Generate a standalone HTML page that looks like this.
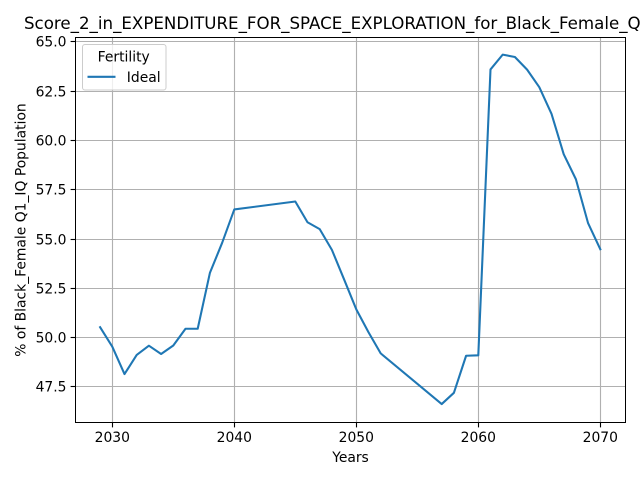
<!DOCTYPE html>
<html>
<head>
<meta charset="utf-8">
<style>
html,body{margin:0;padding:0;background:#fff;}
svg{display:block;}
text{font-family:"DejaVu Sans","Liberation Sans",sans-serif;fill:#000;}
</style>
</head>
<body>
<svg id="chart" width="640" height="480" viewBox="0 0 640 480" xmlns="http://www.w3.org/2000/svg">
  <rect x="0" y="0" width="640" height="480" fill="#fff"/>
  <text x="350.8" y="29" font-size="16.67" text-anchor="middle">Score_2_in_EXPENDITURE_FOR_SPACE_EXPLORATION_for_Black_Female_Q1_IQ</text>
  <g id="grid"></g>
  <polyline id="series" fill="none" stroke="#1f77b4" stroke-width="2.08" stroke-linejoin="round" stroke-linecap="square"></polyline>
  <g id="ticks"></g>
  <rect x="75.5" y="37.5" width="550" height="385" fill="none" stroke="#000" stroke-width="1"/>
  <text x="350.5" y="462" font-size="13.89" text-anchor="middle">Years</text>
  <text transform="translate(25.7 230) rotate(-90)" font-size="13.89" text-anchor="middle">% of Black_Female Q1_IQ Population</text>
  <g>
    <rect x="82.5" y="44.5" width="83.5" height="45.5" rx="2.5" ry="2.5" fill="#fff" fill-opacity="0.8" stroke="#ccc" stroke-width="1"/>
    <text x="123.7" y="61.5" font-size="13.89" text-anchor="middle">Fertility</text>
    <line x1="87.5" y1="76.8" x2="115.5" y2="76.8" stroke="#1f77b4" stroke-width="2.08"/>
    <text x="126.8" y="82" font-size="13.89">Ideal</text>
  </g>
</svg>
<script>
var years = [2029,2030,2031,2032,2033,2034,2035,2036,2037,2038,2039,2040,2045,2046,2047,2048,2049,2050,2051,2052,2057,2058,2059,2060,2061,2062,2063,2064,2065,2066,2067,2068,2069,2070];
var idealValues = [50.53,49.54,48.15,49.12,49.59,49.17,49.6,50.45,50.45,53.28,54.8,56.5,56.9,55.85,55.5,54.45,52.95,51.43,50.27,49.2,46.63,47.2,49.08,49.1,63.6,64.35,64.23,63.59,62.7,61.35,59.3,58.03,55.8,54.48];
var xTickLabels = ["2030","2040","2050","2060","2070"];
var yTickLabels = ["47.5","50.0","52.5","55.0","57.5","60.0","62.5","65.0"];

var SVGNS = "http://www.w3.org/2000/svg";
function xScale(v){ return 112.3 + (v - 2030) * 12.2; }
function yScale(v){ return 41.8 + (65 - v) * 19.72; }
function snap(p){ return Math.floor(p) + 0.5; }
function make(tag, attrs, parent){
  var el = document.createElementNS(SVGNS, tag);
  for (var k in attrs) el.setAttribute(k, attrs[k]);
  parent.appendChild(el);
  return el;
}
var grid = document.getElementById("grid");
var ticks = document.getElementById("ticks");

xTickLabels.forEach(function(label){
  var x = snap(xScale(parseFloat(label)));
  var g = make("line", {x1:x, y1:37.5, x2:x, y2:422.5, stroke:"#b0b0b0", "stroke-width":1.11}, grid);
  
  
  var t = make("line", {x1:x, y1:422.5, x2:x, y2:427.4, stroke:"#000", "stroke-width":1.11}, ticks);
  
  
  var l = make("text", {x:x - 0.2, y:442, "font-size":13.89, "text-anchor":"middle"}, ticks);
  
  
  l.textContent = label;
});

yTickLabels.forEach(function(label){
  var y = snap(yScale(parseFloat(label)));
  var g = make("line", {x1:75.5, y1:y, x2:625.5, y2:y, stroke:"#b0b0b0", "stroke-width":1.11}, grid);
  
  
  var t = make("line", {x1:70.6, y1:y, x2:75.5, y2:y, stroke:"#000", "stroke-width":1.11}, ticks);
  
  
  var l = make("text", {x:66.5, y:y + 5, "font-size":13.89, "text-anchor":"end"}, ticks);
  
  
  l.textContent = label;
});

document.getElementById("series").setAttribute("points", years.map(function(yr, i){
  return xScale(yr).toFixed(2) + "," + yScale(idealValues[i]).toFixed(2);
}).join(" "));
</script>
</body>
</html>
